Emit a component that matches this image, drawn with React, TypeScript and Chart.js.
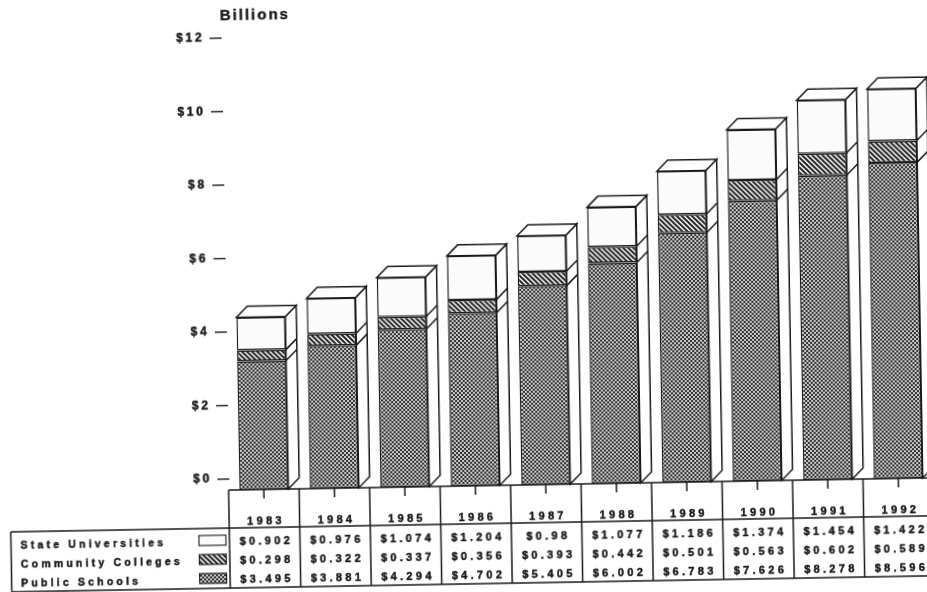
import React, { useEffect, useRef } from "react";
import { Chart, registerables } from "chart.js";

Chart.register(...registerables);

// ---- data (billions of dollars) ----
const years = ["1983", "1984", "1985", "1986", "1987", "1988", "1989", "1990", "1991", "1992"];
const stateUniversities = [0.902, 0.976, 1.074, 1.204, 0.98, 1.077, 1.186, 1.374, 1.454, 1.422];
const communityColleges = [0.298, 0.322, 0.337, 0.356, 0.393, 0.442, 0.501, 0.563, 0.602, 0.589];
const publicSchools = [3.495, 3.881, 4.294, 4.702, 5.405, 6.002, 6.783, 7.626, 8.278, 8.596];
const yTickValues = [0, 2, 4, 6, 8, 10, 12];
const unitTitle = "Billions";

// ---- drawing constants ----
const INK = "#1a1a1a";
const FONT = '"Liberation Sans", Arial, Helvetica, sans-serif';
const DEPTH = 11; // 3-D offset of the bar boxes
const CANVAS_W = 940;
const CANVAS_H = 615;

// table geometry (pixels)
const HEADER_BOTTOM = 532;
const ROW_Y = [546, 565, 584];
const TABLE_BOTTOM = 592;
const LEGEND_LEFT = 1.5;

function checkerPattern(): CanvasPattern | string {
  const c = document.createElement("canvas");
  c.width = 4;
  c.height = 4;
  const g = c.getContext("2d");
  if (!g) return "#888";
  g.fillStyle = "#cacaca";
  g.fillRect(0, 0, 4, 4);
  g.fillStyle = "#323232";
  g.fillRect(0, 0, 2, 2);
  g.fillRect(2, 2, 2, 2);
  return g.createPattern(c, "repeat") || "#888";
}

function hatchPattern(): CanvasPattern | string {
  const s = 5;
  const c = document.createElement("canvas");
  c.width = s;
  c.height = s;
  const g = c.getContext("2d");
  if (!g) return "#bbb";
  g.fillStyle = "#fbfbfb";
  g.fillRect(0, 0, s, s);
  g.strokeStyle = "#262626";
  g.lineWidth = 2;
  g.lineCap = "square";
  g.beginPath();
  g.moveTo(-1, -1);
  g.lineTo(s + 1, s + 1);
  g.moveTo(-1, s - 1);
  g.lineTo(1, s + 1);
  g.moveTo(s - 1, -1);
  g.lineTo(s + 1, 1);
  g.stroke();
  return g.createPattern(c, "repeat") || "#bbb";
}

// draws text with wide letter spacing, slightly emboldened
function drawSpaced(
  ctx: CanvasRenderingContext2D,
  text: string,
  x: number,
  y: number,
  align: "left" | "center" | "right",
  spacing: number
) {
  const chars = [...text];
  const widths = chars.map((ch) => ctx.measureText(ch).width);
  const total = widths.reduce((a, b) => a + b, 0) + spacing * (chars.length - 1);
  let cx = align === "left" ? x : align === "center" ? x - total / 2 : x - total;
  ctx.textAlign = "left";
  ctx.textBaseline = "middle";
  ctx.lineWidth = 0.45;
  ctx.strokeStyle = ctx.fillStyle as string;
  chars.forEach((ch, k) => {
    ctx.fillText(ch, cx, y);
    ctx.strokeText(ch, cx, y);
    cx += widths[k] + spacing;
  });
}

// side and top faces of each stacked bar
const boxFaces = {
  id: "boxFaces",
  afterDatasetsDraw(chart: any) {
    const ctx: CanvasRenderingContext2D = chart.ctx;
    const yScale = chart.scales.y;
    const base = yScale.getPixelForValue(0);
    const metas = chart.data.datasets.map((_: any, i: number) => chart.getDatasetMeta(i));
    const n = chart.data.labels.length;
    const d = DEPTH;
    ctx.save();
    ctx.lineWidth = 1.5;
    ctx.strokeStyle = INK;
    ctx.lineJoin = "miter";
    for (let i = 0; i < n; i++) {
      const bars = metas.map((m: any) => m.data[i]);
      const x = bars[0].x;
      const w = bars[0].width;
      const L = x - w / 2;
      const R = x + w / 2;
      const top = Math.min(...bars.map((b: any) => b.y));

      // right side face
      ctx.beginPath();
      ctx.moveTo(R, top);
      ctx.lineTo(R + d, top - d);
      ctx.lineTo(R + d, base - d);
      ctx.lineTo(R, base);
      ctx.closePath();
      ctx.fillStyle = "#ffffff";
      ctx.fill();
      ctx.stroke();

      // segment edges running across the side face
      ctx.beginPath();
      bars.forEach((b: any) => {
        if (b.y > top + 0.5 && b.y < base - 0.5) {
          ctx.moveTo(R, b.y);
          ctx.lineTo(R + d, b.y - d);
        }
      });
      ctx.stroke();

      // top face
      ctx.beginPath();
      ctx.moveTo(L, top);
      ctx.lineTo(L + d, top - d);
      ctx.lineTo(R + d, top - d);
      ctx.lineTo(R, top);
      ctx.closePath();
      ctx.fillStyle = "#ffffff";
      ctx.fill();
      ctx.stroke();
    }
    ctx.restore();
  },
};

// value axis on the back wall, unit title and the data table with legend
const axisAndTable = {
  id: "axisAndTable",
  afterDraw(chart: any) {
    const ctx: CanvasRenderingContext2D = chart.ctx;
    const xScale = chart.scales.x;
    const yScale = chart.scales.y;
    const area = chart.chartArea;
    const n = chart.data.labels.length;
    const step = xScale.getPixelForValue(1) - xScale.getPixelForValue(0);
    const cellLeft = (i: number) => xScale.getPixelForValue(0) - step / 2 + i * step;
    const headerTop = yScale.getPixelForValue(0);

    ctx.save();
    ctx.fillStyle = INK;
    ctx.strokeStyle = INK;

    // unit title
    ctx.font = `bold 15px ${FONT}`;
    drawSpaced(ctx, unitTitle, area.left - 0.5, 19.5, "left", 2.0);

    // value ticks
    const ticks: number[] =
      yScale.ticks && yScale.ticks.length ? yScale.ticks.map((t: any) => t.value) : yTickValues;
    ctx.font = `bold 12px ${FONT}`;
    ticks.forEach((v) => {
      const py = yScale.getPixelForValue(v) - DEPTH;
      ctx.lineWidth = 1.4;
      ctx.beginPath();
      ctx.moveTo(area.left - 11, py);
      ctx.lineTo(area.left + 1, py);
      ctx.stroke();
      drawSpaced(ctx, `$${v}`, area.left - 19, py, "right", 2.8);
    });

    // table grid
    ctx.lineWidth = 1.5;
    ctx.beginPath();
    ctx.moveTo(cellLeft(0), headerTop);
    ctx.lineTo(cellLeft(n), headerTop);
    ctx.moveTo(LEGEND_LEFT, HEADER_BOTTOM);
    ctx.lineTo(cellLeft(n), HEADER_BOTTOM);
    ctx.moveTo(LEGEND_LEFT, TABLE_BOTTOM);
    ctx.lineTo(cellLeft(n), TABLE_BOTTOM);
    ctx.moveTo(LEGEND_LEFT, HEADER_BOTTOM);
    ctx.lineTo(LEGEND_LEFT, TABLE_BOTTOM);
    for (let i = 0; i <= n; i++) {
      ctx.moveTo(cellLeft(i), headerTop);
      ctx.lineTo(cellLeft(i), TABLE_BOTTOM);
    }
    // category tick marks
    for (let i = 0; i < n; i++) {
      const cx = xScale.getPixelForValue(i);
      ctx.moveTo(cx, headerTop);
      ctx.lineTo(cx, headerTop + 9);
    }
    ctx.stroke();

    // year headers
    ctx.font = `bold 11px ${FONT}`;
    for (let i = 0; i < n; i++) {
      drawSpaced(ctx, String(chart.data.labels[i]), xScale.getPixelForValue(i), 526, "center", 3.3);
    }

    // table rows, top to bottom: last dataset first
    const order = chart.data.datasets.map((_: any, i: number) => i).reverse();
    order.forEach((dsIndex: number, row: number) => {
      const ds = chart.data.datasets[dsIndex];
      const ry = ROW_Y[row];
      ctx.font = `bold 11px ${FONT}`;
      ctx.fillStyle = INK;
      for (let i = 0; i < n; i++) {
        drawSpaced(ctx, `$${ds.data[i]}`, xScale.getPixelForValue(i), ry, "center", 3.3);
      }
      // legend label
      ctx.font = `bold 10.5px ${FONT}`;
      drawSpaced(ctx, ds.label, 11, ry, "left", 3.2);
      // legend swatch
      const sx = 189.5;
      const sy = ry - 7;
      ctx.fillStyle = ds.backgroundColor;
      ctx.fillRect(sx, sy, 27, 10);
      ctx.lineWidth = 1.1;
      ctx.strokeStyle = INK;
      ctx.strokeRect(sx, sy, 27, 10);
      ctx.fillStyle = INK;
    });

    ctx.restore();
  },
};

export default function App() {
  const canvasRef = useRef<HTMLCanvasElement | null>(null);

  useEffect(() => {
    const canvas = canvasRef.current;
    if (!canvas) return;
    const chart = new Chart(canvas, {
      type: "bar",
      data: {
        labels: years,
        datasets: [
          {
            label: "Public Schools",
            data: publicSchools,
            backgroundColor: checkerPattern() as any,
            borderColor: INK,
            borderWidth: 1.5,
            borderSkipped: false,
          },
          {
            label: "Community Colleges",
            data: communityColleges,
            backgroundColor: hatchPattern() as any,
            borderColor: INK,
            borderWidth: 1.5,
            borderSkipped: false,
          },
          {
            label: "State Universities",
            data: stateUniversities,
            backgroundColor: "#fbfbfb",
            borderColor: INK,
            borderWidth: 1.5,
            borderSkipped: false,
          },
        ],
      },
      options: {
        responsive: false,
        animation: false,
        devicePixelRatio: 1,
        layout: { padding: { left: 220, right: 15, top: 53, bottom: 121 } },
        datasets: { bar: { barPercentage: 0.695, categoryPercentage: 1 } },
        plugins: { legend: { display: false }, tooltip: { enabled: false } },
        scales: {
          x: { stacked: true, display: false },
          y: { stacked: true, display: false, min: 0, max: 12, ticks: { stepSize: 2 } },
        },
      },
      plugins: [boxFaces, axisAndTable],
    });
    return () => chart.destroy();
  }, []);

  return (
    <div
      style={{
        position: "fixed",
        left: 0,
        top: 0,
        width: 927,
        height: 592,
        overflow: "hidden",
        background: "#ffffff",
      }}
    >
      <canvas
        ref={canvasRef}
        width={CANVAS_W}
        height={CANVAS_H}
        style={{
          display: "block",
          width: CANVAS_W,
          height: CANVAS_H,
          transform: "rotate(-1deg)",
          transformOrigin: "0 0",
        }}
      />
    </div>
  );
}
